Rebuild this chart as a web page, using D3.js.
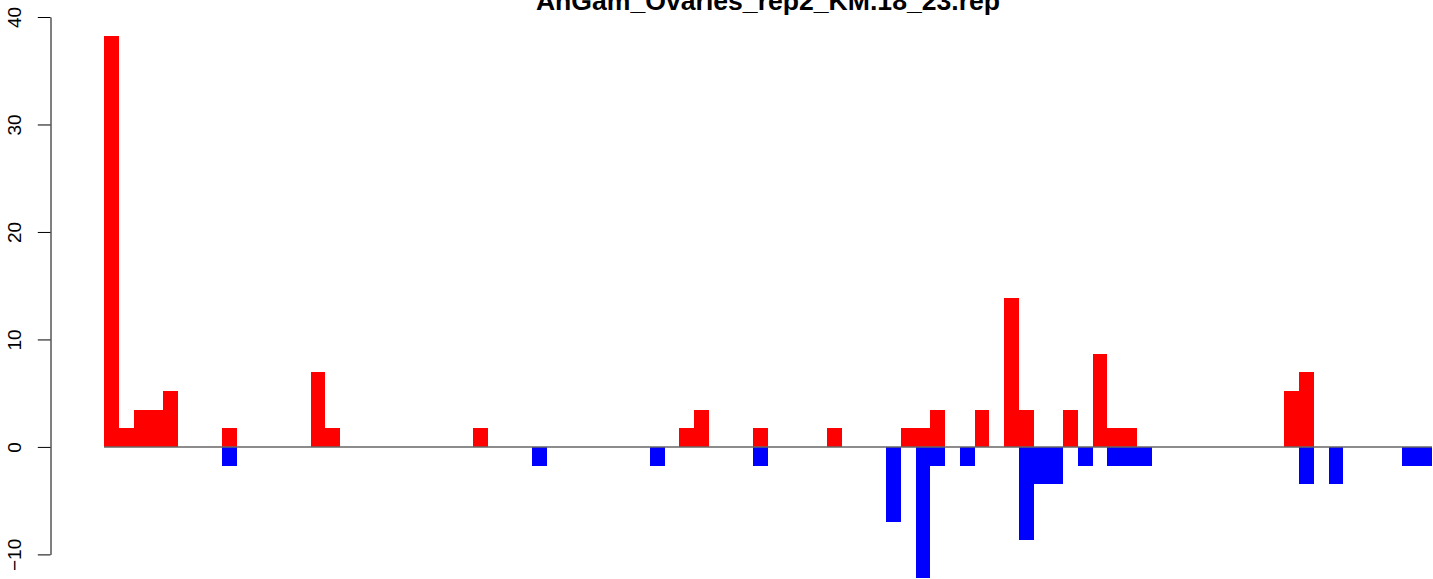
<!DOCTYPE html>
<html>
<head>
<meta charset="utf-8">
<script src="https://cdn.jsdelivr.net/npm/d3@7"></script>
<style>
  html, body { margin: 0; padding: 0; background: #fff; }
  svg { display: block; }
</style>
</head>
<body>
<svg id="chart" width="1433" height="579"></svg>
<script>
const title = "AnGam_Ovaries_rep2_KM.18_23.rep";

// 90 positions along the read (bar index)
const positions = d3.range(90);

// positive-strand values (red)
const plusValues = [
  38.19, 1.74, 3.47, 3.47, 5.21, 0, 0, 0, 1.74, 0,
  0, 0, 0, 0, 6.94, 1.74, 0, 0, 0, 0,
  0, 0, 0, 0, 0, 1.74, 0, 0, 0, 0,
  0, 0, 0, 0, 0, 0, 0, 0, 0, 1.74,
  3.47, 0, 0, 0, 1.74, 0, 0, 0, 0, 1.74,
  0, 0, 0, 0, 1.74, 1.74, 3.47, 0, 0, 3.47,
  0, 13.89, 3.47, 0, 0, 3.47, 0, 8.68, 1.74, 1.74,
  0, 0, 0, 0, 0, 0, 0, 0, 0, 0,
  5.21, 6.94, 0, 0, 0, 0, 0, 0, 0, 0
];

// negative-strand values (blue)
const minusValues = [
  0, 0, 0, 0, 0, 0, 0, 0, -1.74, 0,
  0, 0, 0, 0, 0, 0, 0, 0, 0, 0,
  0, 0, 0, 0, 0, 0, 0, 0, 0, -1.74,
  0, 0, 0, 0, 0, 0, 0, -1.74, 0, 0,
  0, 0, 0, 0, -1.74, 0, 0, 0, 0, 0,
  0, 0, 0, -6.94, 0, -12.15, -1.74, 0, -1.74, 0,
  0, 0, -8.68, -3.47, -3.47, 0, -1.74, 0, -1.74, -1.74,
  -1.74, 0, 0, 0, 0, 0, 0, 0, 0, 0,
  0, -3.47, 0, -3.47, 0, 0, 0, 0, -1.74, -1.74
];

const yTicks = [-10, 0, 10, 20, 30, 40];

const svg = d3.select("#chart");

const x = d3.scaleBand().domain(positions).range([104, 1432]).padding(0);
const y = d3.scaleLinear().domain([-10, 40]).range([554.4, 17]);

// bars
svg.append("g").selectAll("rect.plus")
  .data(positions.filter(i => plusValues[i] !== 0))
  .join("rect")
  .attr("x", i => x(i))
  .attr("width", x.bandwidth())
  .attr("y", i => y(plusValues[i]))
  .attr("height", i => y(0) - y(plusValues[i]))
  .attr("fill", "#ff0000")
  .attr("shape-rendering", "crispEdges");

svg.append("g").selectAll("rect.minus")
  .data(positions.filter(i => minusValues[i] !== 0))
  .join("rect")
  .attr("x", i => x(i))
  .attr("width", x.bandwidth())
  .attr("y", y(0))
  .attr("height", i => y(minusValues[i]) - y(0))
  .attr("fill", "#0000ff")
  .attr("shape-rendering", "crispEdges");

// zero line
svg.append("line")
  .attr("x1", x(0)).attr("x2", x(89) + x.bandwidth())
  .attr("y1", y(0)).attr("y2", y(0))
  .attr("stroke", "#666666").attr("stroke-width", 1.5);

// y axis
const axis = d3.axisLeft(y)
  .tickValues(yTicks)
  .tickSize(12.7)
  .tickSizeOuter(0)
  .tickFormat(d => d < 0 ? "\u2212" + Math.abs(d) : String(d));

const ag = svg.append("g")
  .attr("transform", "translate(50.5,0)")
  .call(axis);
ag.select(".domain").attr("stroke", "#000").attr("stroke-width", 1);
ag.selectAll(".tick line").attr("stroke", "#000").attr("stroke-width", 1);
ag.selectAll(".tick text")
  .attr("font-family", "Liberation Sans, Arial, Helvetica, sans-serif")
  .attr("font-size", 19)
  .attr("fill", "#000")
  .attr("text-anchor", "middle")
  .attr("x", null).attr("dy", null)
  .attr("transform", "translate(-29.5,0) rotate(-90)");

// title
svg.append("text")
  .attr("x", 768).attr("y", 10)
  .attr("text-anchor", "middle")
  .attr("font-family", "Liberation Sans, Arial, Helvetica, sans-serif")
  .attr("font-weight", "bold")
  .attr("font-size", 26.6)
  .attr("fill", "#000")
  .text(title);
</script>
</body>
</html>
